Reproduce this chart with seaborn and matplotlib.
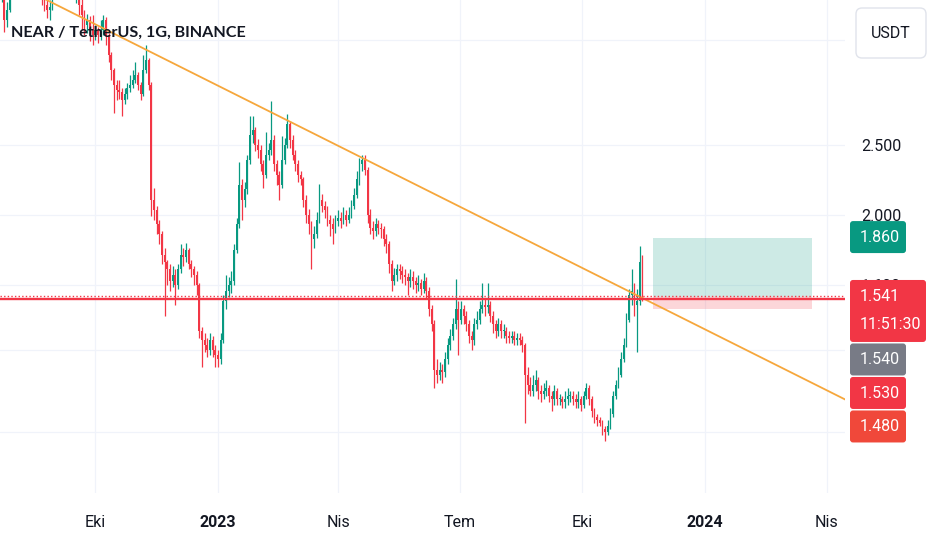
import numpy as np
import pandas as pd
import matplotlib
matplotlib.use('Agg')
import matplotlib.pyplot as plt
import matplotlib.dates as mdates
from matplotlib.ticker import NullLocator
from matplotlib.patches import FancyBboxPatch
import seaborn as sns

# NEAR / USDT, 2 gunluk mumlar
first_candle_date = '2022-07-22'
first_open = 4.00

closes = [
    4.10, 3.73, 3.85, 4.17, 4.37, 4.52, 4.59, 4.66, 4.81, 4.74,
    4.59, 4.44, 4.37, 4.30, 4.17, 4.03, 3.91, 3.85, 3.88, 4.03,
    4.17, 4.24, 4.30, 4.24, 4.17, 4.24, 4.10, 4.03, 4.03, 3.91,
    3.79, 3.67, 3.73, 3.61, 3.55, 3.61, 3.55, 3.61, 3.73, 3.55,
    3.33, 3.18, 3.03, 2.98, 2.96, 2.89, 2.94, 3.00, 3.03, 3.08,
    3.13, 3.03, 2.94, 3.18, 3.28, 3.03, 2.10, 2.03, 1.94, 1.88,
    1.76, 1.72, 1.68, 1.62, 1.65, 1.60, 1.68, 1.76, 1.75, 1.79,
    1.71, 1.68, 1.65, 1.60, 1.38, 1.34, 1.32, 1.30, 1.34, 1.30,
    1.28, 1.26, 1.34, 1.52, 1.57, 1.60, 1.62, 1.79, 1.94, 2.20,
    2.10, 2.17, 2.38, 2.58, 2.62, 2.50, 2.46, 2.35, 2.27, 2.42,
    2.46, 2.54, 2.35, 2.27, 2.20, 2.38, 2.50, 2.67, 2.54, 2.42,
    2.35, 2.27, 2.24, 2.10, 2.00, 1.94, 1.85, 1.88, 1.97, 2.10,
    2.06, 2.03, 1.97, 1.94, 1.91, 1.96, 1.98, 1.96, 2.00, 1.97,
    2.00, 2.06, 2.13, 2.24, 2.35, 2.38, 2.31, 2.00, 1.92, 1.90,
    1.94, 1.92, 1.91, 1.85, 1.82, 1.71, 1.62, 1.65, 1.68, 1.67,
    1.65, 1.64, 1.62, 1.64, 1.62, 1.60, 1.61, 1.58, 1.62, 1.57,
    1.48, 1.41, 1.22, 1.20, 1.22, 1.21, 1.26, 1.32, 1.36, 1.41,
    1.48, 1.43, 1.48, 1.45, 1.41, 1.36, 1.34, 1.41, 1.43, 1.48,
    1.50, 1.49, 1.50, 1.45, 1.41, 1.38, 1.41, 1.38, 1.38, 1.36,
    1.35, 1.36, 1.34, 1.35, 1.34, 1.32, 1.20, 1.16, 1.14, 1.16,
    1.18, 1.14, 1.13, 1.14, 1.15, 1.12, 1.11, 1.14, 1.11, 1.11,
    1.10, 1.11, 1.12, 1.12, 1.11, 1.10, 1.11, 1.09, 1.12, 1.15,
    1.11, 1.07, 1.05, 1.04, 1.03, 1.01, 1.00, 1.02, 1.06, 1.12,
    1.16, 1.20, 1.26, 1.32, 1.43, 1.55, 1.57, 1.50, 1.52, 1.72,
    1.541,
]

highs = [
    4.20, 4.15, 3.95, 4.25, 4.45, 4.60, 4.70, 4.78, 4.95, 4.90,
    4.80, 4.65, 4.52, 4.45, 4.35, 4.22, 4.08, 3.97, 3.97, 4.10,
    4.25, 4.32, 4.40, 4.36, 4.30, 4.30, 4.28, 4.15, 4.10, 4.08,
    4.03, 3.85, 3.80, 3.78, 3.79, 3.67, 3.65, 3.73, 3.79, 3.76,
    3.58, 3.36, 3.20, 3.08, 3.08, 3.00, 3.00, 3.05, 3.13, 3.18,
    3.26, 3.16, 3.06, 3.33, 3.44, 3.30, 3.06, 2.18, 2.06, 1.97,
    1.90, 1.80, 1.73, 1.71, 1.70, 1.68, 1.71, 1.82, 1.80, 1.83,
    1.80, 1.73, 1.70, 1.67, 1.61, 1.40, 1.37, 1.35, 1.37, 1.36,
    1.32, 1.30, 1.37, 1.55, 1.65, 1.64, 1.67, 1.82, 1.98, 2.37,
    2.24, 2.22, 2.42, 2.74, 2.74, 2.65, 2.55, 2.50, 2.38, 2.61,
    2.52, 2.88, 2.58, 2.38, 2.30, 2.57, 2.56, 2.76, 2.70, 2.58,
    2.46, 2.38, 2.30, 2.26, 2.13, 2.04, 1.96, 1.93, 2.02, 2.21,
    2.14, 2.09, 2.06, 2.00, 1.98, 2.00, 2.03, 2.02, 2.05, 2.03,
    2.05, 2.10, 2.18, 2.30, 2.40, 2.42, 2.42, 2.33, 2.04, 1.96,
    1.98, 1.97, 1.95, 1.93, 1.88, 1.84, 1.73, 1.69, 1.71, 1.71,
    1.70, 1.68, 1.66, 1.68, 1.67, 1.64, 1.65, 1.63, 1.66, 1.64,
    1.59, 1.50, 1.43, 1.26, 1.25, 1.24, 1.29, 1.35, 1.39, 1.44,
    1.63, 1.52, 1.52, 1.50, 1.47, 1.43, 1.38, 1.44, 1.47, 1.52,
    1.61, 1.53, 1.61, 1.52, 1.47, 1.43, 1.44, 1.43, 1.41, 1.40,
    1.38, 1.38, 1.38, 1.37, 1.37, 1.36, 1.33, 1.23, 1.19, 1.20,
    1.22, 1.19, 1.16, 1.17, 1.18, 1.16, 1.14, 1.16, 1.15, 1.13,
    1.12, 1.14, 1.15, 1.14, 1.14, 1.13, 1.14, 1.12, 1.14, 1.17,
    1.16, 1.12, 1.08, 1.06, 1.05, 1.04, 1.02, 1.04, 1.08, 1.14,
    1.18, 1.23, 1.29, 1.35, 1.46, 1.58, 1.68, 1.61, 1.58, 1.81,
    1.76,
]

lows = [
    3.95, 3.59, 3.65, 3.82, 4.12, 4.30, 4.45, 4.52, 4.60, 4.65,
    4.52, 4.38, 4.30, 4.22, 4.10, 3.91, 3.84, 3.75, 3.73, 3.85,
    4.00, 4.12, 4.18, 4.18, 4.10, 4.12, 4.05, 3.98, 3.93, 3.79,
    3.61, 3.55, 3.57, 3.48, 3.44, 3.50, 3.46, 3.50, 3.55, 3.44,
    3.26, 3.08, 2.77, 2.89, 2.90, 2.74, 2.85, 2.90, 2.96, 3.00,
    3.05, 2.98, 2.89, 2.92, 3.15, 2.98, 1.99, 1.97, 1.88, 1.82,
    1.71, 1.45, 1.60, 1.57, 1.59, 1.50, 1.58, 1.66, 1.70, 1.72,
    1.68, 1.64, 1.60, 1.55, 1.35, 1.23, 1.29, 1.27, 1.28, 1.27,
    1.23, 1.23, 1.24, 1.33, 1.48, 1.54, 1.56, 1.60, 1.77, 1.92,
    1.97, 2.05, 2.14, 2.35, 2.52, 2.45, 2.40, 2.30, 2.18, 2.25,
    2.38, 2.42, 2.30, 2.20, 2.10, 2.18, 2.35, 2.48, 2.48, 2.38,
    2.30, 2.22, 2.20, 2.05, 1.95, 1.88, 1.68, 1.80, 1.86, 1.95,
    2.02, 1.98, 1.93, 1.87, 1.82, 1.89, 1.93, 1.92, 1.94, 1.93,
    1.95, 1.98, 2.04, 2.11, 2.20, 2.30, 2.27, 1.95, 1.88, 1.85,
    1.87, 1.88, 1.86, 1.81, 1.77, 1.66, 1.57, 1.60, 1.62, 1.63,
    1.61, 1.60, 1.55, 1.59, 1.58, 1.56, 1.57, 1.55, 1.56, 1.53,
    1.45, 1.38, 1.15, 1.17, 1.18, 1.17, 1.19, 1.24, 1.30, 1.34,
    1.39, 1.28, 1.41, 1.41, 1.38, 1.33, 1.30, 1.32, 1.39, 1.41,
    1.46, 1.45, 1.46, 1.42, 1.37, 1.35, 1.36, 1.35, 1.35, 1.33,
    1.33, 1.33, 1.32, 1.32, 1.32, 1.29, 1.03, 1.13, 1.12, 1.12,
    1.14, 1.11, 1.10, 1.11, 1.12, 1.10, 1.07, 1.09, 1.09, 1.09,
    1.08, 1.08, 1.09, 1.10, 1.09, 1.08, 1.08, 1.07, 1.08, 1.11,
    1.09, 1.05, 1.03, 1.02, 1.02, 0.99, 0.97, 0.99, 1.01, 1.05,
    1.11, 1.15, 1.19, 1.25, 1.31, 1.42, 1.50, 1.45, 1.29, 1.50,
    1.52,
]

# cizimler: trend cizgisi, yatay cizgiler, pozisyon araci
trend_dates = ['2022-06-15', '2024-04-25']
trend_prices = [4.63, 1.085]
horizontal_line_price = 1.53
last_price = 1.541
countdown = '11:51:30'
position_start, position_end = '2023-11-23', '2024-03-21'
entry_price, target_price, stop_price = 1.54, 1.86, 1.48

grid_prices = [1.0, 1.3, 1.6, 2.0, 2.5, 3.5]
labelled_prices = [1.6, 2.0, 2.5]
time_ticks = ['2022-10-01', '2023-01-01', '2023-04-01', '2023-07-01',
              '2023-10-01', '2024-01-01', '2024-04-01']
time_labels = ['Eki', '2023', 'Nis', 'Tem', 'Eki', '2024', 'Nis']

up_color = '#089981'
down_color = '#f23645'
text_color = '#131722'

sns.set_theme(style='white')
plt.rcParams['font.family'] = ['Roboto', 'DejaVu Sans']

fig = plt.figure(figsize=(9.32, 5.5), dpi=100)
ax = fig.add_axes([0, 57 / 550, 845 / 932, 493 / 550])
ax.set_yscale('log')

opens = np.array([first_open] + closes[:-1])
closes_arr = np.array(closes)
candle_x = mdates.date2num(pd.date_range(first_candle_date, periods=len(closes), freq='2D')) + 1
candle_colors = np.where(closes_arr >= opens, up_color, down_color)

body_bottom = np.minimum(opens, closes_arr)
body_height = np.maximum(np.abs(closes_arr - opens), body_bottom * 0.004)
ax.vlines(candle_x, lows, highs, colors=candle_colors, lw=0.9, zorder=3)
ax.bar(candle_x, body_height, bottom=body_bottom, width=1.4, color=candle_colors,
       linewidth=0, zorder=3)

# pozisyon araci (hedef / stop kutulari)
pos_x = mdates.date2num(pd.to_datetime([position_start, position_end]))
ax.fill_between(pos_x, entry_price, target_price, color=up_color, alpha=0.2, lw=0, zorder=2)
ax.fill_between(pos_x, stop_price, entry_price, color=down_color, alpha=0.2, lw=0, zorder=2)

# trend cizgisi
sns.lineplot(x=mdates.date2num(pd.to_datetime(trend_dates)), y=trend_prices, ax=ax,
             color='#f6a73c', lw=1.3, zorder=4)

ax.axhline(horizontal_line_price, color=down_color, lw=1.7, zorder=5)
ax.axhline(last_price, color=down_color, lw=1.0, ls=(0, (1, 1.6)), zorder=5)

jan_first = mdates.date2num(pd.Timestamp('2023-01-01'))
ax.set_xlim(jan_first - 163.3, jan_first + 469.7)
ax.set_ylim(0.8225, 3.973)

# 3.500, 1.300 ve 1.000 etiketleri referansta kutularin altinda kaliyor
ax.set_yticks(grid_prices)
ax.set_yticklabels([f'{p:.3f}' if p in labelled_prices else '' for p in grid_prices])
ax.yaxis.set_minor_locator(NullLocator())
ax.yaxis.tick_right()
ax.set_xticks(mdates.date2num(pd.to_datetime(time_ticks)))
ax.set_xticklabels(time_labels)
for label in ax.get_xticklabels():
    if label.get_text().isdigit():
        label.set_fontweight('bold')
ax.tick_params(axis='y', length=0, pad=11.5, labelsize=11.5, labelcolor=text_color)
ax.tick_params(axis='x', length=0, pad=16, labelsize=11.5, labelcolor=text_color)
ax.grid(True, color='#f0f3fa', lw=0.9)
ax.set_axisbelow(True)
ax.set_xlabel('')
ax.set_ylabel('')
for spine in ax.spines.values():
    spine.set_visible(False)

# ust katman: fiyat etiketleri, baslik, USDT dugmesi (piksel koordinatlari)
overlay = fig.add_axes([0, 0, 1, 1])
overlay.set_xlim(0, 932)
overlay.set_ylim(550, 0)
overlay.axis('off')
overlay.patch.set_alpha(0)


def price_to_pixel(price):
    return 550 - ax.transData.transform((jan_first, price))[1]


price_labels = [
    (target_price, up_color, [f'{target_price:.3f}']),
    (last_price, down_color, [f'{last_price:.3f}', countdown]),
    (entry_price, '#787b86', [f'{entry_price:.3f}']),
    (horizontal_line_price, down_color, [f'{horizontal_line_price:.3f}']),
    (stop_price, '#f0483a', [f'{stop_price:.3f}']),
]
previous_bottom = -100
for price, color, lines in price_labels:
    height = 32 if len(lines) == 1 else 62
    width = 56 if len(lines) == 1 else 76
    top = max(price_to_pixel(price) - 16.5, previous_bottom + 1.5)
    overlay.add_patch(FancyBboxPatch((850, top), width, height,
                                     boxstyle='round,pad=0,rounding_size=3',
                                     fc=color, ec='none'))
    for k, line in enumerate(lines):
        overlay.text(860, top + 16.5 + 28 * k, line, color='white', fontsize=11.5,
                     va='center', ha='left')
    previous_bottom = top + height

overlay.add_patch(FancyBboxPatch((856, 8), 70, 50, boxstyle='round,pad=0,rounding_size=6',
                                 fc='white', ec='#e0e3eb', lw=1))
overlay.text(891, 33, 'USDT', color=text_color, fontsize=11.5, ha='center', va='center')

overlay.text(11, 33, 'NEAR / TetherUS, 1G, BINANCE', color=text_color, fontsize=11.6,
             fontweight='bold', family=['Lato', 'DejaVu Sans'], va='center', ha='left')

fig.savefig('out.png', dpi=100)
